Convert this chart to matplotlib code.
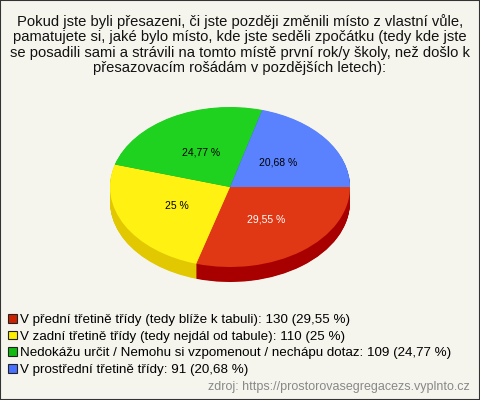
import matplotlib
matplotlib.use('Agg')
import matplotlib.pyplot as plt
from matplotlib.patches import Rectangle

plt.rcParams['font.family'] = ['Liberation Sans', 'DejaVu Sans']

title = ("Pokud jste byli přesazeni, či jste později změnili místo z vlastní vůle,\n"
         "pamatujete si, jaké bylo místo, kde jste seděli zpočátku (tedy kde jste\n"
         "se posadili sami a strávili na tomto místě první rok/y školy, než došlo k\n"
         "přesazovacím rošádám v pozdějších letech):")
categories = ["V přední třetině třídy (tedy blíže k tabuli)",
              "V zadní třetině třídy (tedy nejdál od tabule)",
              "Nedokážu určit / Nemohu si vzpomenout / nechápu dotaz",
              "V prostřední třetině třídy"]
counts = [130, 110, 109, 91]
pct_labels = ["29,55 %", "25 %", "24,77 %", "20,68 %"]
source = "zdroj: https://prostorovasegregacezs.vyplnto.cz"

top_colors = ['#e03815', '#fff212', '#1fd21f', '#5a82ff']
side_colors = ['#a80000', '#e2c800', '#0e9e0e', '#2a4ccc']
legend_colors = ['#cc2200', '#ffee00', '#11bb11', '#4a70ff']
label_colors = ['white', 'black', 'black', 'black']
bg = '#f5f5ed'

W, H = 480, 400
fig = plt.figure(figsize=(W / 100, H / 100), dpi=100, facecolor=bg)

# pie geometry in pixels
cx, cy, rx, ry, depth = 230, 187, 120, 80, 15
ax = fig.add_axes([(cx - rx) / W, (H - cy - ry - depth) / H,
                   2 * rx / W, (2 * ry + depth) / H])
ax.set_facecolor('none')

# side wall: stacked darker pies
steps = depth * 2
for k in range(steps, 0, -1):
    ax.pie(counts, colors=side_colors, startangle=0, counterclock=False,
           center=(0, -k / (2 * ry)), wedgeprops=dict(linewidth=0))

wedges, texts = ax.pie(counts, colors=top_colors, startangle=0, counterclock=False,
                       labels=pct_labels, labeldistance=0.5,
                       wedgeprops=dict(linewidth=0),
                       textprops=dict(fontsize=7.5, ha='center', va='center'))
for t, c in zip(texts, label_colors):
    t.set_color(c)

ax.set_aspect('auto')
ax.set_xlim(-1, 1)
ax.set_ylim(-1 - depth / ry, 1)
ax.axis('off')

fig.text(0.5, 1 - 14 / H, title, ha='center', va='top', fontsize=10.6,
         color='#111111', linespacing=1.13)

handles = [Rectangle((0, 0), 1, 1, facecolor=c, edgecolor='#222222', linewidth=0.8)
           for c in legend_colors]
leg_labels = [f"{c}: {n} ({p})" for c, n, p in zip(categories, counts, pct_labels)]
fig.legend(handles, leg_labels, loc='upper left', bbox_to_anchor=(8 / W, 1 - 314 / H),
           frameon=False, fontsize=9.6, handlelength=0.65, handleheight=0.65,
           handletextpad=0.25, labelspacing=0.33, borderpad=0, borderaxespad=0)

fig.text(1 - 10 / W, 1 - 387 / H, source, ha='right', va='center', fontsize=9,
         color='#888888')

fig.patches.append(Rectangle((0, 0), 1, 1, transform=fig.transFigure, fill=False,
                             edgecolor='#333333', linewidth=1.5))

fig.savefig('out.png', dpi=100, facecolor=bg)
